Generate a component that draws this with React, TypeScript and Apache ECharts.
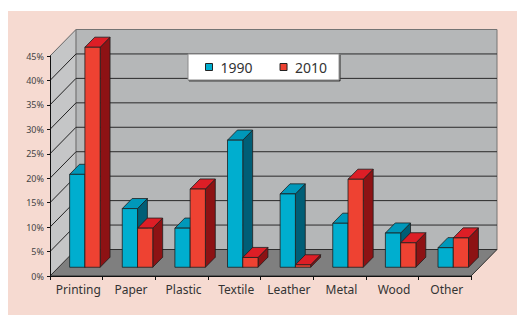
import React, { useEffect, useRef } from 'react';
import * as echarts from 'echarts';

const categories = ['Printing', 'Paper', 'Plastic', 'Textile', 'Leather', 'Metal', 'Wood', 'Other'];
const values1990 = [19, 12, 8, 26, 15, 9, 7, 4];
const values2010 = [45, 8, 16, 2, 0.5, 18, 5, 6];
const seriesNames = ['1990', '2010'];
const yTicks = [0, 5, 10, 15, 20, 25, 30, 35, 40, 45];

const WALL_DX = 26;
const WALL_DY = 26.5;
const FRONT = 0.33;
const DEPTH = 0.38;
const BAR_FRAC = 0.29;

const palettes = [
  { front: '#00aecf', top: '#0098ba', side: '#005e76' },
  { front: '#ee4232', top: '#dd1e26', side: '#8d1214' },
];

const FONT = 'Noto Sans';

function makeBarRenderer(s: number) {
  return (params: any, api: any) => {
    const i = api.value(0);
    const v = api.value(1);
    const base = api.coord([i, 0]);
    const topP = api.coord([i, v]);
    const cw = api.size([1, 0])[0];
    const bw = cw * BAR_FRAC;
    const fdx = WALL_DX * FRONT;
    const fdy = WALL_DY * FRONT;
    const bdx = WALL_DX * DEPTH;
    const bdy = WALL_DY * DEPTH;
    const L = base[0] - bw + s * bw + fdx;
    const R = L + bw;
    const yB = base[1] - fdy;
    const yT = topP[1] - fdy;
    const pal = palettes[s];
    const stroke = { stroke: '#1e1e1e', lineWidth: 0.8, lineJoin: 'round' };
    return {
      type: 'group',
      children: [
        {
          type: 'polygon',
          shape: { points: [[R, yT], [R + bdx, yT - bdy], [R + bdx, yB - bdy], [R, yB]] },
          style: { fill: pal.side, ...stroke },
        },
        {
          type: 'polygon',
          shape: { points: [[L, yT], [L + bdx, yT - bdy], [R + bdx, yT - bdy], [R, yT]] },
          style: { fill: pal.top, ...stroke },
        },
        {
          type: 'rect',
          shape: { x: L, y: yT, width: bw, height: yB - yT },
          style: { fill: pal.front, ...stroke },
        },
      ],
    };
  };
}

function renderWalls(params: any, api: any) {
  const cs = params.coordSys;
  const xL = cs.x;
  const xR = cs.x + cs.width;
  const yT = cs.y;
  const yB = cs.y + cs.height;
  const dx = WALL_DX;
  const dy = WALL_DY;
  const children: any[] = [
    {
      type: 'polygon',
      shape: { points: [[xL, yT], [xL + dx, yT - dy], [xL + dx, yB - dy], [xL, yB]] },
      style: { fill: '#c5c6c7' },
    },
    {
      type: 'rect',
      shape: { x: xL + dx, y: yT - dy, width: cs.width, height: cs.height },
      style: { fill: '#b5b7b8', stroke: '#747474', lineWidth: 1 },
    },
    {
      type: 'line',
      shape: { x1: xL + dx, y1: yT - dy, x2: xL + dx, y2: yB - dy },
      style: { stroke: '#8a8a8a', lineWidth: 1 },
    },
  ];
  yTicks.forEach((t) => {
    const y = api.coord([0, t])[1];
    if (t > 0 && t < yTicks[yTicks.length - 1]) {
      children.push({
        type: 'line',
        shape: { x1: xL + dx, y1: y - dy, x2: xR + dx, y2: y - dy },
        style: { stroke: '#2a2a2a', lineWidth: 1 },
      });
    }
    if (t > 0) {
      children.push({
        type: 'line',
        shape: { x1: xL, y1: y, x2: xL + dx, y2: y - dy },
        style: { stroke: t === yTicks[yTicks.length - 1] ? '#666' : '#222', lineWidth: 1 },
      });
    }
  });
  children.push({
    type: 'polygon',
    shape: { points: [[xL, yB], [xL + dx, yB - dy], [xR + dx, yB - dy], [xR, yB]] },
    style: { fill: '#7f7f7f', stroke: '#2e2e2e', lineWidth: 1 },
  });
  return { type: 'group', children };
}

export default function App() {
  const ref = useRef<HTMLDivElement>(null);
  useEffect(() => {
    if (!ref.current) return;
    const chart = echarts.init(ref.current, null, { renderer: 'svg' });
    const option: any = {
      animation: false,
      backgroundColor: '#ffffff',
      graphic: [
        {
          type: 'rect',
          z: -10,
          silent: true,
          shape: { x: 8, y: 11, width: 517 - 8, height: 315 - 11 },
          style: { fill: '#f6dad1' },
        },
      ],
      grid: { left: 50, right: 46, top: 56, bottom: 39, containLabel: false },
      legend: {
        data: seriesNames,
        left: 188,
        top: 54,
        padding: [6, 12, 6, 17],
        itemWidth: 7,
        itemHeight: 7,
        itemGap: 27,
        icon: 'rect',
        backgroundColor: '#ffffff',
        borderColor: '#8a8a8a',
        borderWidth: 1,
        shadowColor: '#3a3a3a',
        shadowOffsetX: 1,
        shadowOffsetY: 1,
        shadowBlur: 0,
        itemStyle: { borderColor: '#222', borderWidth: 1 },
        textStyle: { fontFamily: FONT, fontSize: 14, color: '#333', padding: [0, 0, 0, 3], lineHeight: 14 },
        selectedMode: false,
      },
      xAxis: {
        type: 'category',
        data: categories,
        z: 10,
        axisLine: { lineStyle: { color: '#111', width: 1 } },
        axisTick: { show: true, length: 4, lineStyle: { color: '#111' } },
        axisLabel: { interval: 0, fontFamily: FONT, fontSize: 12, color: '#333', margin: 7, padding: [0, 0, 0, 4] },
        splitLine: { show: false },
      },
      yAxis: {
        type: 'value',
        min: 0,
        max: 45,
        interval: 5,
        z: 10,
        axisLine: { show: true, lineStyle: { color: '#111', width: 1 } },
        axisTick: { show: true, length: 3, lineStyle: { color: '#111' } },
        axisLabel: { fontFamily: FONT, fontSize: 9, color: '#444', margin: 6, formatter: '{value}%' },
        splitLine: { show: false },
      },
      series: [
        {
          type: 'custom',
          name: 'walls',
          coordinateSystem: 'cartesian2d',
          silent: true,
          clip: false,
          z: 1,
          renderItem: renderWalls,
          data: [[0, 0]],
        },
        ...[values1990, values2010].map((vals, s) => ({
          type: 'custom',
          name: seriesNames[s],
          coordinateSystem: 'cartesian2d',
          clip: false,
          z: 3,
          itemStyle: { color: palettes[s].front, borderColor: '#222', borderWidth: 1 },
          renderItem: makeBarRenderer(s),
          encode: { x: 0, y: 1 },
          data: vals.map((v, i) => [i, v]),
        })),
      ],
    };
    chart.setOption(option);
    return () => chart.dispose();
  }, []);
  return (
    <div
      ref={ref}
      style={{ position: 'absolute', left: 0, top: 0, width: 517, height: 315 }}
    />
  );
}
